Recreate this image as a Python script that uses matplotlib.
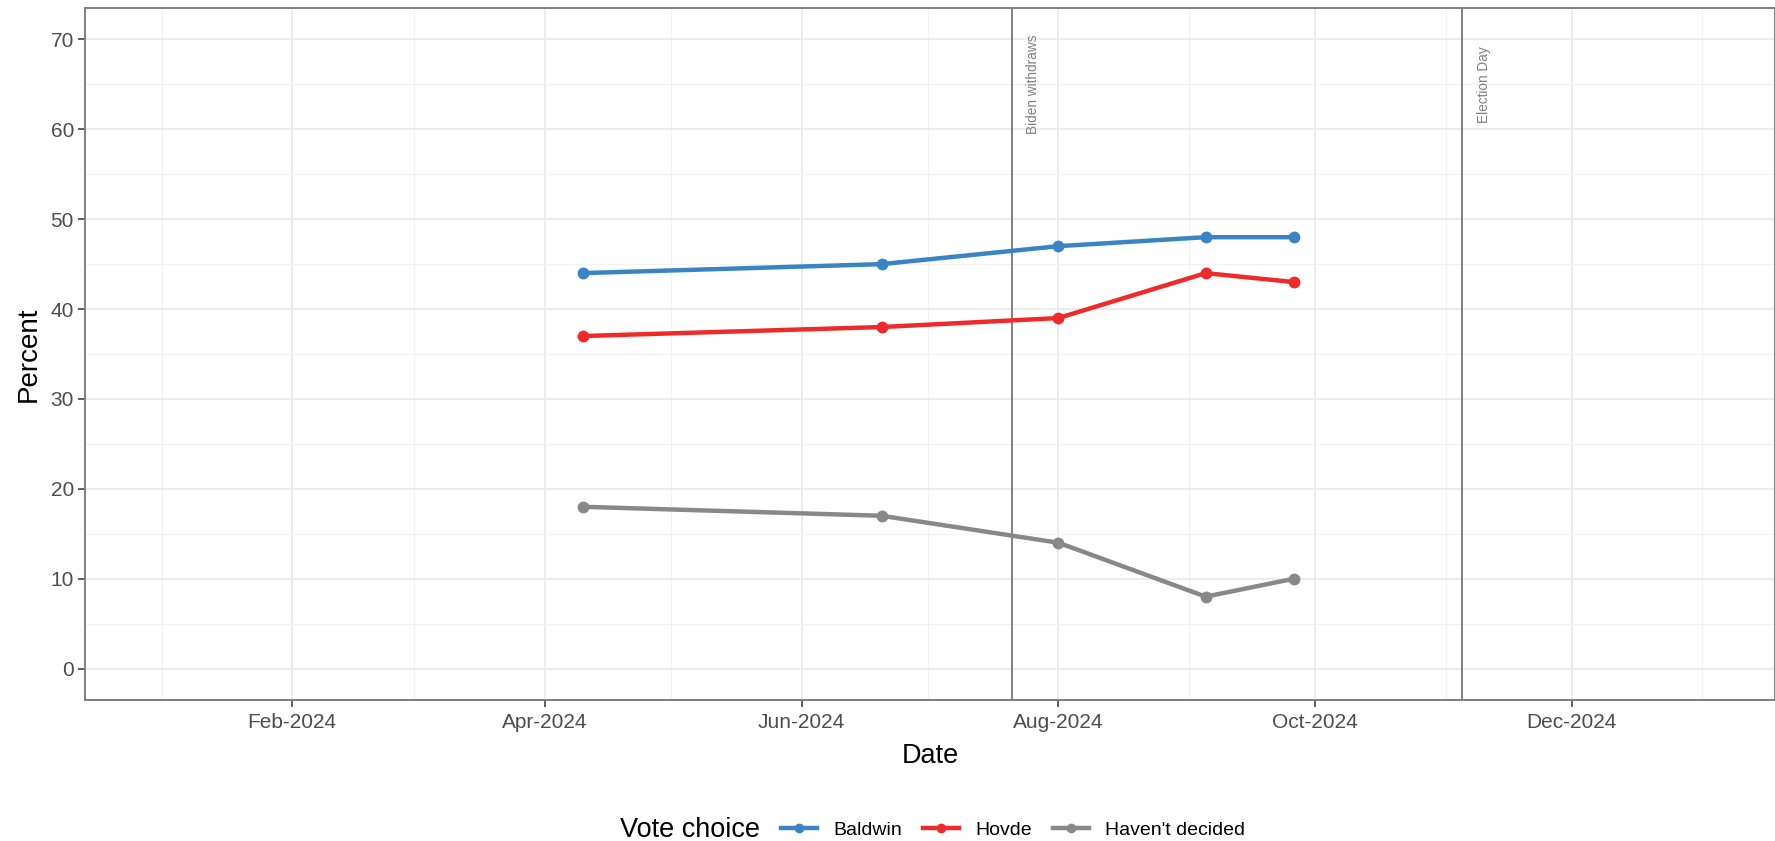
import datetime as dt

import matplotlib
matplotlib.use("Agg")
import matplotlib.dates as mdates
import matplotlib.pyplot as plt
from matplotlib.lines import Line2D

plt.rcParams["font.family"] = ["Liberation Sans", "DejaVu Sans"]

# poll end dates and results
poll_dates = ["2024-04-10", "2024-06-20", "2024-08-01", "2024-09-05", "2024-09-26"]
baldwin = [44, 45, 47, 48, 48]
hovde = [37, 38, 39, 44, 43]
undecided = [18, 17, 14, 8, 10]

series_names = ["Baldwin", "Hovde", "Haven't decided"]
series_colors = ["#3A84C4", "#EE2A2A", "#888888"]

events = [("2024-07-21", "Biden withdraws"), ("2024-11-05", "Election Day")]
event_label_y = 65
event_label_offset_days = 5

x_limits = ("2024-01-01", "2024-12-31")
y_limits = (0, 70)


def to_num(s):
    return mdates.date2num(dt.datetime.strptime(s, "%Y-%m-%d"))


fig = plt.figure(figsize=(17.75, 8.41), dpi=100)
ax = fig.add_axes([85 / 1775, 1 - 700 / 841, 1 - 85 / 1775, (700 - 8) / 841])

x = [to_num(d) for d in poll_dates]
for vals, name, color in zip([baldwin, hovde, undecided], series_names, series_colors):
    ax.plot(x, vals, color=color, linewidth=3.2, marker="o", markersize=7.5,
            label=name, zorder=3)

for date, label in events:
    xv = to_num(date)
    ax.axvline(xv, color="#808080", linewidth=1.4, zorder=2)
    ax.text(xv + event_label_offset_days, event_label_y, label, rotation=90,
            ha="center", va="center", fontsize=9.8, color="#808080")

# ggplot style 5% expansion
x0, x1 = to_num(x_limits[0]), to_num(x_limits[1])
pad = (x1 - x0) * 0.05
ax.set_xlim(x0 - pad, x1 + pad)
ypad = (y_limits[1] - y_limits[0]) * 0.05
ax.set_ylim(y_limits[0] - ypad, y_limits[1] + ypad)

ax.xaxis.set_major_locator(mdates.MonthLocator(bymonth=[2, 4, 6, 8, 10, 12]))
ax.xaxis.set_minor_locator(mdates.MonthLocator(bymonth=[1, 3, 5, 7, 9, 11]))
ax.xaxis.set_major_formatter(mdates.DateFormatter("%b-%Y"))
ax.set_yticks(range(0, 71, 10))
ax.set_yticks(range(5, 70, 10), minor=True)

ax.grid(which="major", color="#EBEBEB", linewidth=1.3, zorder=0)
ax.grid(which="minor", color="#F2F2F2", linewidth=0.8, zorder=0)
ax.set_axisbelow(True)
for sp in ax.spines.values():
    sp.set_color("#7F7F7F")
    sp.set_linewidth(1.4)

ax.tick_params(which="major", length=5, width=1.1, color="#333333",
               labelsize=15, labelcolor="#4D4D4D", pad=3)
ax.tick_params(axis="x", which="major", pad=4.5)
ax.tick_params(which="minor", length=0)

ax.set_xlabel("Date", fontsize=19.5, labelpad=8)
ax.set_ylabel("Percent", fontsize=20, labelpad=6)

leg_y = 1 - 830 / 841
fig.text(620 / 1775, leg_y, "Vote choice", fontsize=19.5, ha="left", va="center")
handles = [Line2D([], [], color=c, linewidth=3.2, marker="o", markersize=6)
           for c in series_colors]
fig.legend(handles, series_names, loc="center left", bbox_to_anchor=(781 / 1775, leg_y),
           ncol=3, frameon=False, fontsize=14, handlelength=1.86,
           handletextpad=0.85, columnspacing=1.05, borderaxespad=0, borderpad=0)

fig.savefig("out.png", dpi=100)
